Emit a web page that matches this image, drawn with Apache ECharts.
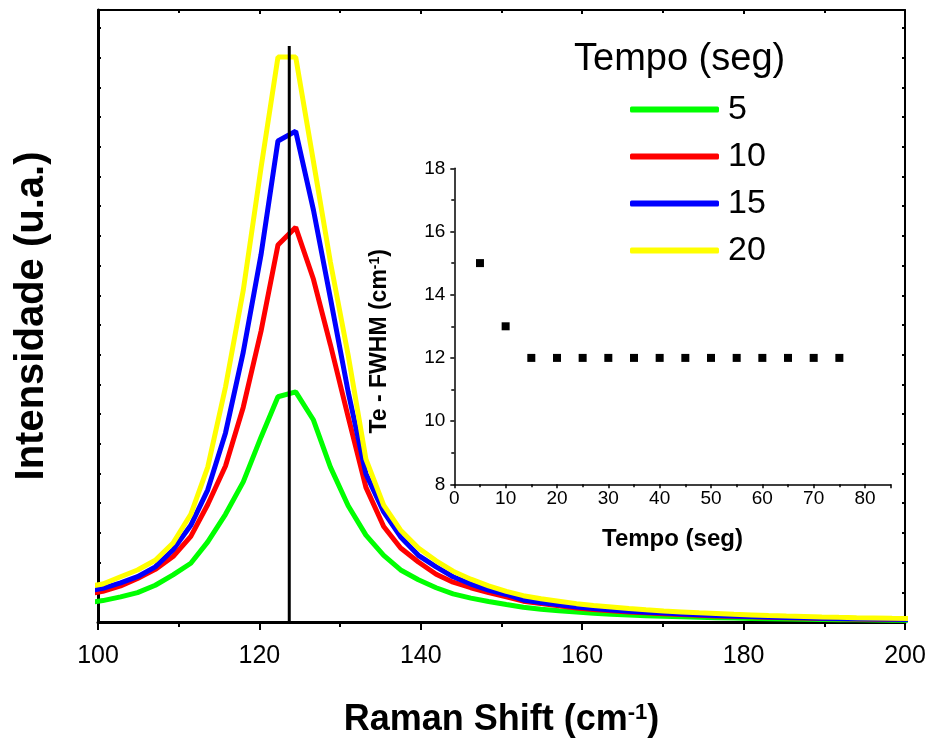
<!DOCTYPE html>
<html>
<head>
<meta charset="utf-8">
<script src="https://cdn.jsdelivr.net/npm/echarts@6/dist/echarts.min.js"></script>
<style>
html,body{margin:0;padding:0;background:#fff;}
#chart{width:931px;height:738px;}
</style>
</head>
<body>
<div id="chart"></div>
<script>
// Raman shift positions (cm^-1)
var shift = [98.4, 100.6, 102.8, 104.9, 107.1, 109.3, 111.5, 113.6, 115.8, 118.0, 120.2, 122.3,
  124.5, 126.7, 128.8, 131.0, 133.2, 135.4, 137.5, 139.7, 141.9, 144.0, 146.2, 148.4, 150.6, 152.7,
  154.9, 157.1, 159.3, 161.4, 163.6, 165.8, 167.9, 170.1, 172.3, 174.5, 176.6, 178.8, 181.0, 183.1,
  185.3, 187.5, 189.7, 191.8, 194.0, 196.2, 198.4, 200.5];

// Intensities (arbitrary units) for each deposition time
var int5 = [3.1, 3.5, 4.1, 4.8, 6.0, 7.7, 9.6, 13.1, 17.6, 22.9, 30.2, 36.8,
  37.6, 33.0, 25.3, 19.0, 14.2, 10.9, 8.5, 6.9, 5.6, 4.6, 3.9, 3.35, 2.85, 2.4,
  2.1, 1.85, 1.62, 1.44, 1.28, 1.15, 1.03, 0.93, 0.84, 0.77, 0.7, 0.64, 0.58, 0.53,
  0.49, 0.45, 0.41, 0.38, 0.35, 0.32, 0.3, 0.28];
var int10 = [4.5, 5.0, 5.9, 7.1, 8.6, 10.7, 14.0, 19.2, 25.5, 35.1, 47.5, 61.6,
  64.5, 56.0, 45.3, 33.5, 22.0, 15.6, 12.1, 9.8, 7.8, 6.5, 5.6, 4.8, 4.1, 3.4,
  3.0, 2.65, 2.3, 2.05, 1.85, 1.65, 1.5, 1.35, 1.22, 1.12, 1.0, 0.92, 0.84, 0.77,
  0.7, 0.64, 0.59, 0.54, 0.5, 0.46, 0.42, 0.39];
var int15 = [5.0, 5.5, 6.4, 7.4, 9.0, 11.8, 15.8, 21.6, 30.9, 44.1, 60.0, 78.6,
  80.2, 67.3, 52.9, 37.6, 24.2, 18.0, 13.9, 10.9, 9.0, 7.4, 6.2, 5.2, 4.5, 3.6,
  3.2, 2.8, 2.45, 2.2, 1.95, 1.75, 1.6, 1.45, 1.3, 1.2, 1.08, 0.98, 0.9, 0.82,
  0.75, 0.69, 0.63, 0.58, 0.53, 0.49, 0.45, 0.42];
var int20 = [5.7, 6.2, 7.4, 8.5, 10.1, 12.9, 17.6, 25.3, 38.4, 54.2, 74.2, 92.3,
  92.3, 75.2, 58.8, 43.6, 26.6, 19.1, 15.0, 12.1, 10.0, 8.3, 7.0, 5.9, 5.0, 4.3,
  3.8, 3.4, 3.0, 2.7, 2.45, 2.2, 2.0, 1.8, 1.65, 1.5, 1.38, 1.25, 1.15, 1.05,
  0.97, 0.9, 0.83, 0.77, 0.71, 0.66, 0.61, 0.57];

var seriesNames = ['5', '10', '15', '20'];
var seriesColors = ['#00ff00', '#ff0000', '#0000ff', '#ffff00'];

// Reference peak position line
var peakLineX = [123.7, 123.7];
var peakLineY = [0, 94.1];

// Inset: FWHM vs time
var tempo = [5, 10, 15, 20, 25, 30, 35, 40, 45, 50, 55, 60, 65, 70, 75];
var fwhm  = [15, 13, 12, 12, 12, 12, 12, 12, 12, 12, 12, 12, 12, 12, 12];

var FONT = '"Liberation Sans", Arial, sans-serif';

function pairs(xs, ys) { return xs.map(function (x, i) { return [x, ys[i]]; }); }

var chart = echarts.init(document.getElementById('chart'), null, {renderer: 'canvas'});
var intens = [int5, int10, int15, int20];

var series = intens.map(function (arr, i) {
  return {
    name: seriesNames[i], type: 'line', xAxisIndex: 0, yAxisIndex: 0,
    data: pairs(shift, arr), showSymbol: false, symbol: 'none', smooth: false,
    lineStyle: {color: seriesColors[i], width: 5}, itemStyle: {color: seriesColors[i]},
    clip: true, animation: false, z: 2 + i
  };
});
series.push({
  name: 'peak', type: 'line', xAxisIndex: 0, yAxisIndex: 0,
  data: pairs(peakLineX, peakLineY), symbol: 'none',
  lineStyle: {color: '#000', width: 3}, z: 10, animation: false
});
series.push({
  name: 'fwhm', type: 'scatter', xAxisIndex: 2, yAxisIndex: 2,
  data: pairs(tempo, fwhm), symbol: 'rect', symbolSize: 8,
  itemStyle: {color: '#000', opacity: 1}, z: 12, animation: false
});

var option = {
  backgroundColor: '#fff',
  animation: false,
  textStyle: {fontFamily: FONT},
  title: {
    text: 'Tempo (seg)', left: 574, top: 41, padding: 0,
    textStyle: {fontFamily: FONT, fontSize: 38, fontWeight: 'normal', color: '#000', lineHeight: 38}
  },
  legend: {
    data: seriesNames, orient: 'vertical', left: 630, top: 92.5, padding: 0,
    itemWidth: 89, itemHeight: 6, itemGap: 13, icon: 'roundRect', selectedMode: false,
    textStyle: {fontFamily: FONT, fontSize: 34, color: '#000', lineHeight: 34, padding: [0, 0, 0, 4]}
  },
  grid: [
    {left: 98, top: 10, width: 807, height: 612, containLabel: false, outerBoundsMode: 'none'},
    {left: 454.3, top: 168.3, width: 436.4, height: 316, containLabel: false, outerBoundsMode: 'none'}
  ],
  xAxis: [
    {
      type: 'value', gridIndex: 0, position: 'bottom', min: 100, max: 200, interval: 20,
      axisLine: {onZero: false, lineStyle: {color: '#000', width: 3}},
      axisTick: {inside: false, length: 8, lineStyle: {color: '#000', width: 2}},
      minorTick: {show: true, splitNumber: 2, length: 5, lineStyle: {color: '#000', width: 2}},
      axisLabel: {fontFamily: FONT, fontSize: 25, color: '#000', margin: 22},
      splitLine: {show: false},
      name: '{a|Raman Shift (cm}{s|-1}{a|)}', nameLocation: 'middle', nameGap: 80,
      nameTextStyle: {
        rich: {
          a: {fontFamily: FONT, fontSize: 36, fontWeight: 'bold', color: '#000'},
          s: {fontFamily: FONT, fontSize: 22, fontWeight: 'bold', color: '#000', verticalAlign: 'top'}
        }
      }
    },
    {
      type: 'value', gridIndex: 0, position: 'top', min: 100, max: 200, interval: 20,
      axisLine: {onZero: false, lineStyle: {color: '#000', width: 2}},
      axisTick: {inside: true, length: 4, lineStyle: {color: '#000', width: 2}},
      minorTick: {show: true, splitNumber: 2, length: 3, lineStyle: {color: '#000', width: 2}},
      axisLabel: {show: false}, splitLine: {show: false}
    },
    {
      type: 'value', gridIndex: 1, position: 'bottom', min: 0, max: 85, interval: 10,
      axisLine: {onZero: false, lineStyle: {color: '#000', width: 1.5}},
      axisTick: {inside: false, length: 4, lineStyle: {color: '#000', width: 1.5}},
      minorTick: {show: true, splitNumber: 2, length: 3, lineStyle: {color: '#000', width: 1.5}},
      axisLabel: {fontFamily: FONT, fontSize: 19, color: '#000', margin: 5,
        showMaxLabel: false},
      splitLine: {show: false},
      name: 'Tempo (seg)', nameLocation: 'middle', nameGap: 43,
      nameTextStyle: {fontFamily: FONT, fontSize: 24, fontWeight: 'bold', color: '#000'}
    }
  ],
  yAxis: [
    {
      type: 'value', gridIndex: 0, position: 'left', min: 0, max: 100, interval: 4.853,
      axisLine: {onZero: false, lineStyle: {color: '#000', width: 3}},
      axisTick: {inside: true, length: 3, lineStyle: {color: '#000', width: 2}},
      axisLabel: {show: false}, splitLine: {show: false},
      name: 'Intensidade (u.a.)', nameLocation: 'middle', nameGap: 46,
      nameTextStyle: {fontFamily: FONT, fontSize: 40, fontWeight: 'bold', color: '#000'}
    },
    {
      type: 'value', gridIndex: 0, position: 'right', min: 0, max: 100, interval: 4.853,
      axisLine: {onZero: false, lineStyle: {color: '#000', width: 2}},
      axisTick: {inside: true, length: 3, lineStyle: {color: '#000', width: 2}},
      axisLabel: {show: false}, splitLine: {show: false}
    },
    {
      type: 'value', gridIndex: 1, position: 'left', min: 8, max: 18, interval: 2,
      axisLine: {onZero: false, lineStyle: {color: '#000', width: 1.5}},
      axisTick: {inside: false, length: 4, lineStyle: {color: '#000', width: 1.5}},
      minorTick: {show: true, splitNumber: 2, length: 3, lineStyle: {color: '#000', width: 1.5}},
      axisLabel: {fontFamily: FONT, fontSize: 19, color: '#000', margin: 9},
      splitLine: {show: false},
      name: '{a|Te - FWHM (cm}{s|-1}{a|)}', nameLocation: 'middle', nameGap: 63,
      nameTextStyle: {
        padding: [0, 30, 0, 0],
        rich: {
          a: {fontFamily: FONT, fontSize: 23, fontWeight: 'bold', color: '#000'},
          s: {fontFamily: FONT, fontSize: 14, fontWeight: 'bold', color: '#000', verticalAlign: 'top'}
        }
      }
    }
  ],
  series: series
};
chart.setOption(option);
</script>
</body>
</html>
